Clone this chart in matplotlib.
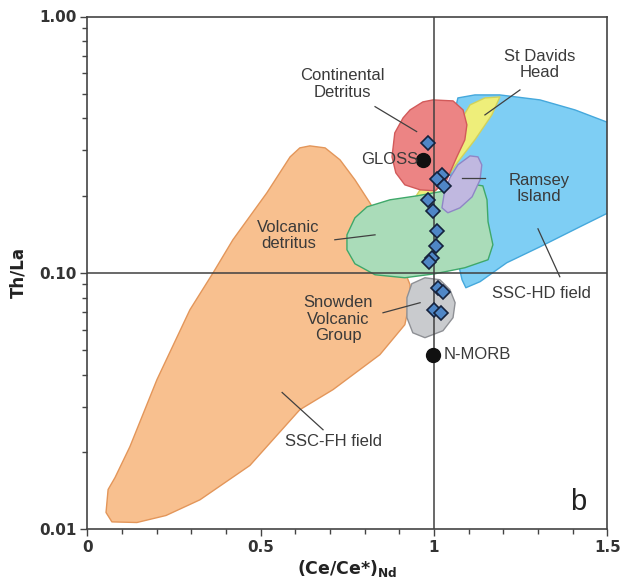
import matplotlib
matplotlib.use("Agg")
import matplotlib.pyplot as plt
from matplotlib.patches import Polygon
from matplotlib.ticker import FixedLocator, NullFormatter

# Field outlines as (Ce/Ce*)Nd, Th/La vertices
ssc_fh_x = [0.642, 0.686, 0.729, 0.772, 0.815, 0.859, 0.902, 0.931, 0.931, 0.916, 0.844,
            0.709, 0.613, 0.469, 0.325, 0.227, 0.143, 0.071, 0.054, 0.060, 0.080, 0.123,
            0.201, 0.296, 0.363, 0.420, 0.518, 0.585, 0.613]
ssc_fh_y = [0.3127, 0.3071, 0.2758, 0.2305, 0.1875, 0.1471, 0.1124, 0.0898, 0.0785, 0.0627,
            0.0479, 0.0350, 0.0292, 0.0177, 0.0130, 0.01129, 0.0106, 0.01066, 0.0116, 0.01426,
            0.01588, 0.02097, 0.0383, 0.0717, 0.100, 0.1345, 0.2051, 0.2833, 0.3071]

ssc_hd_x = [1.069, 1.118, 1.190, 1.306, 1.407, 1.52, 1.52, 1.421, 1.306, 1.210, 1.133,
            1.092, 1.081, 1.061, 1.046, 1.052, 1.061]
ssc_hd_y = [0.4811, 0.4943, 0.4943, 0.4726, 0.4319, 0.3776, 0.176, 0.1511, 0.1263, 0.1094,
            0.0923, 0.0874, 0.0939, 0.1229, 0.1926, 0.330, 0.4319]

st_davids_x = [1.190, 1.167, 1.118, 1.069, 1.023, 0.974, 0.945, 0.988, 1.032, 1.075, 1.104, 1.147]
st_davids_y = [0.4855, 0.413, 0.330, 0.2708, 0.2203, 0.1926, 0.196, 0.2411, 0.3017, 0.3879,
               0.4519, 0.4811]

cont_x = [0.968, 0.997, 1.055, 1.084, 1.095, 1.089, 1.066, 1.037, 1.003, 0.960, 0.916,
          0.890, 0.879, 0.887, 0.911, 0.931]
cont_y = [0.4642, 0.4726, 0.4684, 0.4319, 0.3776, 0.330, 0.2833, 0.2305, 0.2088, 0.2107,
          0.2203, 0.2454, 0.2833, 0.3514, 0.4022, 0.4319]

volc_x = [0.749, 0.772, 0.807, 0.873, 0.951, 1.032, 1.104, 1.141, 1.153, 1.156, 1.170,
          1.156, 1.089, 1.003, 0.916, 0.830, 0.772, 0.749]
volc_y = [0.1406, 0.1638, 0.1808, 0.1926, 0.1996, 0.2088, 0.2223, 0.2183, 0.1926, 0.1581,
          0.1286, 0.1124, 0.1046, 0.0991, 0.0956, 0.0982, 0.1084, 0.1229]

ramsey_x = [1.104, 1.127, 1.138, 1.133, 1.110, 1.075, 1.040, 1.023, 1.029, 1.046, 1.069]
ramsey_y = [0.2858, 0.2833, 0.2636, 0.2305, 0.1978, 0.1792, 0.1714, 0.1792, 0.2014, 0.2346,
            0.2636]

snowdon_x = [0.936, 0.974, 1.017, 1.046, 1.061, 1.055, 1.026, 0.974, 0.939, 0.922, 0.922]
snowdon_y = [0.0906, 0.0956, 0.0939, 0.0859, 0.0764, 0.0668, 0.0594, 0.0558, 0.0583, 0.0668,
             0.0799]

# Samples
sample_x = [0.983, 1.022, 1.009, 1.029, 0.983, 0.996, 1.010, 1.007, 0.994, 0.986,
            1.012, 1.026, 1.000, 1.019]
sample_y = [0.321, 0.241, 0.2325, 0.218, 0.1926, 0.1744, 0.1458, 0.1274, 0.1144, 0.1104,
            0.0874, 0.0843, 0.0717, 0.0698]

# Reference compositions
gloss = (0.967, 0.276)
nmorb = (0.998, 0.0479)

fields = [
    (ssc_fh_x, ssc_fh_y, "#f8c08f", "#e3965a"),
    (ssc_hd_x, ssc_hd_y, "#7ecef4", "#45a8dc"),
    (st_davids_x, st_davids_y, "#eeee7a", "#d2d25a"),
    (cont_x, cont_y, "#ec8484", "#d25a5a"),
    (snowdon_x, snowdon_y, "#c9cbce", "#8e9095"),
    (volc_x, volc_y, "#aadcb9", "#3fa86a"),
    (ramsey_x, ramsey_y, "#c0b8e0", "#8f86c6"),
]

# label text, text position, leader line start/end
labels = [
    ("Continental\nDetritus", (0.736, 0.5456), ((0.830, 0.4449), (0.950, 0.3556))),
    ("St Davids\nHead", (1.306, 0.650), ((1.248, 0.5169), (1.147, 0.413))),
    ("Ramsey\nIsland", (1.303, 0.2135), ((1.081, 0.2346), (1.147, 0.2346))),
    ("Volcanic\ndetritus", (0.580, 0.140), ((0.714, 0.1345), (0.830, 0.1406))),
    ("SSC-HD field", (1.311, 0.0828), ((1.300, 0.1484), (1.363, 0.0965))),
    ("Snowden\nVolcanic\nGroup", (0.724, 0.0659), ((0.853, 0.0698), (0.960, 0.0764))),
    ("SSC-FH field", (0.709, 0.02194), ((0.562, 0.0341), (0.680, 0.0244))),
]

text_font = "Liberation Sans"
dark = "#3a3a3a"

fig = plt.figure(figsize=(6.27, 5.8), dpi=100)
ax = fig.add_axes([87.3 / 627, 1 - 529 / 580, 520 / 627, 512.5 / 580])

for i, (fx, fy, fc, ec) in enumerate(fields):
    ax.add_patch(Polygon(list(zip(fx, fy)), closed=True, facecolor=fc, edgecolor=ec,
                         linewidth=1.0, joinstyle="round", zorder=1 + i * 0.1))

ax.axvline(1.0, color="#404040", lw=1.1, zorder=3)
ax.axhline(0.1, color="#404040", lw=1.1, zorder=3)

for text, (tx, ty), (start, end) in labels:
    ax.text(tx, ty, text, ha="center", va="center", fontsize=12, family=text_font,
            color=dark, linespacing=1.1, zorder=6)
    ax.plot([start[0], end[0]], [start[1], end[1]], color="#404040", lw=0.9, zorder=4)

ax.plot(sample_x, sample_y, ls="none", marker="D", ms=6.8, mfc="#4f86c6",
        mec="#15223d", mew=1.2, zorder=5)
ax.plot(*gloss, marker="o", ms=10, color="#111111", zorder=5)
ax.plot(*nmorb, marker="o", ms=10, color="#111111", zorder=5)
ax.text(gloss[0] - 0.012, gloss[1], "GLOSS", ha="right", va="center", fontsize=12,
        family=text_font, color=dark, zorder=6)
ax.text(nmorb[0] + 0.03, nmorb[1], "N-MORB", ha="left", va="center", fontsize=12,
        family=text_font, color=dark, zorder=6)
ax.text(1.415, 0.01269, "b", ha="center", va="center", fontsize=21, family=text_font,
        color="#222222", zorder=6)

ax.set_yscale("log")
ax.set_xlim(0, 1.5)
ax.set_ylim(0.01, 1.0)
ax.set_xticks([0, 0.5, 1.0, 1.5])
ax.set_xticklabels(["0", "0.5", "1", "1.5"])
ax.xaxis.set_minor_locator(FixedLocator([0.1, 0.2, 0.3, 0.4, 0.6, 0.7, 0.8, 0.9,
                                         1.1, 1.2, 1.3, 1.4]))
ax.set_yticks([0.01, 0.1, 1.0])
ax.set_yticklabels(["0.01", "0.10", "1.00"])
ax.yaxis.set_minor_formatter(NullFormatter())

for lab in ax.get_xticklabels() + ax.get_yticklabels():
    lab.set_fontweight("bold")
    lab.set_color("#333333")
ax.tick_params(which="major", length=5, width=1.0, color="#444444", labelsize=11, pad=3)
ax.tick_params(which="minor", length=3.5, width=1.0, color="#444444")
for sp in ax.spines.values():
    sp.set_color("#444444")
    sp.set_linewidth(1.2)

ax.set_ylabel("Th/La", fontsize=12, fontweight="bold", color="#222222", labelpad=8)
ax.set_xlabel("(Ce/Ce*)$_{\\mathbf{Nd}}$", fontsize=12.5, fontweight="bold",
              color="#222222", labelpad=2)

fig.savefig("out.png", dpi=100)
